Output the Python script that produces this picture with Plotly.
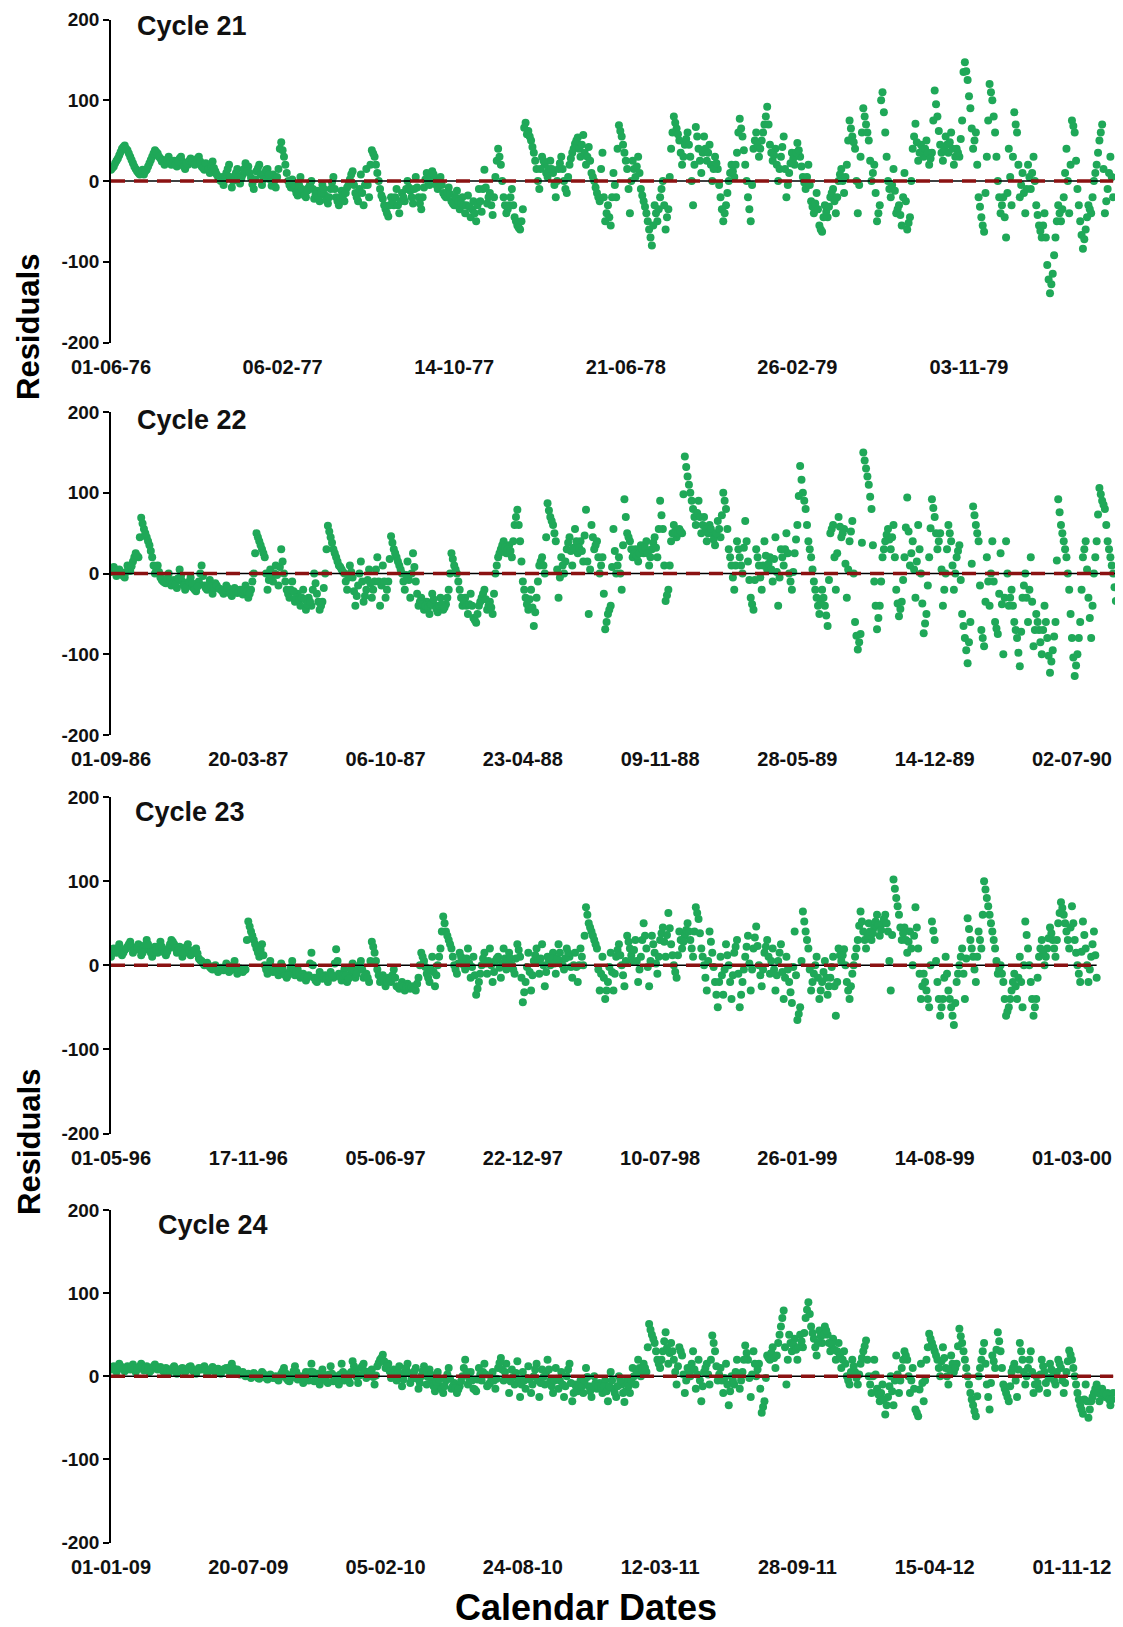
import numpy as np
import pandas as pd
import plotly.graph_objects as go

# ---------------- data ----------------
cycle_names = ["Cycle 21", "Cycle 22", "Cycle 23", "Cycle 24"]
start_dates = ["01-06-76", "01-09-86", "01-05-96", "01-01-09"]
sample_step_days = 4   # main readings every 4th day
mid_offset_days = 2    # in-between readings, 2 days after each main reading

resid_c21 = [
    14, 18, 25, 32, 40, 44, 38, 30, 22, 15,
    10, 12, 8, 14, 22, 30, 38, 34, 28, 26,
    22, 30, 20, 25, 18, 28, 24, 15, 20, 28,
    26, 22, 30, 18, 14, 20, 10, 24, 12, 5,
    0, -5, 10, 20, -8, 5, 15, -3, 8, 22,
    18, 4, -10, 12, 20, -5, 10, 15, 2, 8,
    -8, 15, 48, 30, 10, -5, 2, -10, -18, 5,
    -15, -20, -8, 0, -22, -12, -25, -5, -18, -28,
    -10, 5, -20, -30, -12, -25, -8, 2, 12, -15,
    -25, 8, -30, 15, -20, 38, 30, 10, -10, -22,
    -35, -44, -20, -30, -10, -40, -15, -25, 0, -12,
    -28, 5, -20, -35, -8, 10, -5, 12, 2, -10,
    5, -15, -20, -8, -25, -30, -12, -35, -20, -40,
    -18, -45, -25, -50, -10, -38, 14, -28, -15, -42,
    5, 40, 20, -20, -40, -30, -10, -45, -55, -60,
    -35, 72, 62, 50, 35, 15, -10, 30, 20, 5,
    25, 10, -20, 15, 30, 0, -15, 20, 35, 46,
    54, 30, 57, 20, 42, 10, 0, -15, -25, 35,
    -50, -30, -55, 10, -20, 69, 55, 35, 15, -40,
    25, 5, 30, -10, -25, -40, -60, -80, -30, -50,
    -20, 0, -60, -35, 40, 80, 65, 50, 20, 45,
    60, 30, -30, 67, 40, 10, 55, 25, 45, 0,
    30, 15, -20, -50, -30, 0, 20, 5, 35, 77,
    55, 20, -20, -50, 40, 60, 30, 50, 70, 92,
    45, 25, 40, 0, 30, 55, -20, 10, 35, 20,
    47, 30, 5, -10, 20, -25, -40, -15, -55, -63,
    -30, -45, -20, -10, -40, 0, 15, -15, 20, 75,
    55, 40, -40, 30, 90, 70, 50, 0, 20, -50,
    -30, 110, 60, 0, -20, 15, -40, -30, -55, 10,
    -60, -45, 40, 71, 25, 45, 30, 50, 20, 35,
    112, 80, 45, 25, 55, 35, 60, 20, 40, 30,
    75, 147, 125, 90, 40, 60, -20, -45, -63, 30,
    120, 100, 60, 0, -40, -20, -70, 40, -30, 85,
    60, -20, 10, -40, 20, -10, 30, -30, -55, -70,
    -40, -104, -139, -115, -70, -30, -50, -20, 40, -40,
    75, 60, -10, -50, -84, -60, -30, -40, 0, 20,
    50, 70, -40, -10, 30, -20,
]
resid_c21_mid = [
    16, 22, 28, 36, 42, 40, 34, 26, 18, 12,
    8, 14, 12, 18, 26, 34, 36, 30, 24, 20,
    26, 24, 22, 20, 24, 30, 18, 22, 25, 24,
    20, 28, 24, 16, 22, 15, 18, 16, 8, 2,
    5, 2, 15, 5, 0, 10, 5, 3, 15, 12,
    10, -4, 2, 16, 8, 2, 14, 8, -6, 0,
    5, 40, 38, 20, 0, -8, -4, -15, -5, -10,
    -18, -12, -4, -10, -16, -20, -15, -10, -24, -20,
    -2, -10, -25, -20, -18, -15, -5, 8, -5, -20,
    -10, -15, -5, -5, 20, 34, 20, 0, -18, -30,
    -40, -30, -25, -20, -30, -25, -20, -10, -8, -20,
    -10, -8, -28, -20, 2, 0, 5, 8, -5, 0,
    -5, -18, -14, -16, -28, -20, -25, -28, -30, -30,
    -32, -35, -40, -30, -25, -10, -8, -20, -30, -20,
    25, 30, 0, -30, -35, -20, -30, -50, -58, -50,
    66, 58, 55, 42, 25, 0, 15, 25, 10, 15,
    15, -5, 0, 22, 15, -10, 5, 28, 40, 50,
    40, 45, 35, 30, 25, 5, -8, -20, 15, -20,
    -40, -45, -20, -5, 40, 62, 45, 25, -10, 0,
    15, 18, 10, -18, -32, -50, -70, -55, -40, -35,
    -10, -30, -45, 5, 60, 72, 58, 35, 30, 52,
    45, 0, 20, 55, 25, 35, 40, 35, 20, 15,
    22, -5, -35, -40, -15, 10, 12, 20, 60, 65,
    38, 0, -35, -5, 50, 45, 40, 60, 80, 70,
    35, 32, 20, 15, 42, 15, -5, 22, 28, 35,
    38, 18, -2, 5, -5, -32, -28, -35, -60, -45,
    -38, -32, -15, -25, -20, 8, 0, 5, 50, 65,
    48, 0, -5, 60, 80, 60, 25, 10, -15, -40,
    100, 85, 30, -10, -5, -12, -35, -42, -20, -25,
    -52, 0, 55, 48, 35, 38, 40, 35, 28, 75,
    95, 62, 35, 40, 45, 48, 40, 30, 35, 52,
    135, 136, 105, 65, 50, 20, -32, -55, -15, 75,
    110, 80, 30, -20, -30, -45, -15, 5, 30, 70,
    20, -5, -15, -10, 5, 10, 0, -42, -62, -55,
    -70, -122, -128, -92, -50, -40, -35, 10, 0, 20,
    68, 25, -30, -67, -72, -45, -35, -20, 10, 35,
    60, 15, -25, 10, 5,
]

resid_c22 = [
    2, 8, -3, 5, 0, -5, 10, 3, 15, 25,
    20, 69, 55, 45, 35, 20, 0, 10, -5, -10,
    -12, 0, -15, -8, -18, 5, -10, -20, -14, -5,
    -18, -22, -10, 10, -15, -20, -8, -25, -12, -18,
    -20, -25, -15, -22, -28, -18, -24, -20, -26, -15,
    -30, -20, 0, 50, 40, 30, 20, -20, 5, -10,
    10, -15, 30, 0, -20, -30, -10, -35, -25, -40,
    -20, -45, -30, -40, 0, -25, -45, -35, 0, 59,
    45, 30, 20, 10, 5, 0, -20, 10, -5, -40,
    -15, 15, -35, -20, 5, -30, -10, 20, -40, 10,
    -30, -10, 46, 30, 20, 10, 0, -20, 15, -30,
    25, -10, -40, -30, -45, -35, -50, -25, -40, -48,
    -30, -45, -38, -20, 25, 10, 0, -20, -40, -30,
    -50, -25, -55, -61, -40, -30, -20, -45, -35, -50,
    0, 20, 30, 40, 25, 35, 20, 60, 79, 40,
    -10, -30, -45, -20, -65, -30, 10, 20, 0, 87,
    70, 60, 40, -30, 20, 0, 30, 45, 10, 55,
    25, 40, 15, 79, -50, 60, 30, 40, 0, 20,
    -69, -50, -40, 55, 0, 20, -20, 92, 50, 40,
    20, 30, 15, 35, 25, 40, 10, 30, 45, 20,
    90, 55, -34, -20, 40, 60, 45, 55, 50, 145,
    120, 100, 80, 60, 90, 50, 70, 40, 60, 50,
    35, 65, 45, 100, 80, 30, 10, -20, 40, 20,
    0, 65, 15, -30, -45, 30, 10, -20, 40, 5,
    20, -10, 45, -40, 30, 10, 50, 0, -20, 25,
    60, 133, 100, 80, 40, 20, -10, -30, -50, -20,
    -40, -65, 50, 60, -20, 70, 45, 55, -30, 40,
    65, -60, -94, -75, 150, 130, 110, 80, -10, -69,
    -40, 20, 40, 55, 30, 60, -20, -53, -35, 20,
    94, 10, 40, -30, 60, 0, -74, -50, 20, 92,
    70, 30, 50, -40, 0, 60, 40, -20, 20, 35,
    -50, -80, -111, -60, 83, 60, 40, -70, -90, 20,
    -40, 40, -60, -75, 25, -100, 40, -40, -20, -60,
    -80, -115, -30, 0, -60, 20, -90, -50, -70, -100,
    -40, -80, -123, -95, -60, 92, 60, 40, 20, -20,
    -80, -127, -100, -60, 20, 40, -30, -80, 0, 40,
    106, 90, 80, 40, 20, 0, -34,
]
resid_c22_mid = [
    5, 3, 1, 2, -3, 2, 6, 9, 20, 22,
    45, 62, 50, 40, 28, 10, 5, 2, -8, -11,
    -6, -8, -12, -13, -6, -3, -15, -17, -10, -12,
    -20, -16, 0, -3, -18, -14, -16, -18, -15, -19,
    -22, -20, -18, -25, -23, -21, -22, -23, -20, -22,
    -25, -10, 25, 45, 35, 25, 0, -8, -2, 0,
    -2, 8, 15, -10, -25, -20, -22, -30, -32, -30,
    -32, -38, -35, -20, -12, -35, -40, -18, 30, 52,
    38, 25, 15, 8, 2, -10, -5, 2, -22, -28,
    0, -10, -28, -8, -12, -20, 5, -10, -15, -10,
    -20, 18, 38, 25, 15, 5, -10, -2, -8, 0,
    8, -25, -35, -38, -40, -42, -38, -32, -44, -40,
    -38, -42, -30, 0, 18, 5, -10, -30, -35, -40,
    -38, -40, -58, -50, -35, -25, -32, -40, -42, -25,
    10, 25, 35, 32, 30, 28, 40, 70, 60, 15,
    -20, -38, -32, -42, -48, -10, 15, 10, 45, 78,
    65, 50, 5, -5, 10, 15, 38, 28, 32, 40,
    32, 28, 47, 15, 5, 45, 35, 20, 10, -25,
    -60, -45, 8, 28, 10, 0, 35, 70, 45, 30,
    25, 22, 25, 30, 32, 25, 20, 38, 32, 55,
    72, 10, -27, 10, 50, 52, 50, 52, 98, 132,
    110, 90, 70, 75, 70, 60, 55, 50, 55, 42,
    50, 55, 72, 90, 55, 20, -5, 10, 30, 10,
    32, 40, -8, -38, -8, 20, -5, 10, 22, 12,
    5, 18, 2, -5, 20, 30, 25, -10, 2, 42,
    96, 116, 90, 60, 30, 5, -20, -40, -35, -30,
    -52, -8, 55, 20, 25, 58, 50, 12, 5, 52,
    0, -77, -85, 38, 140, 120, 95, 35, -40, -55,
    -10, 30, 48, 42, 45, 20, -37, -44, -8, 57,
    52, 25, 5, 15, 30, -37, -62, -15, 56, 81,
    50, 40, 5, -20, 30, 50, 10, 0, 28, -8,
    -65, -95, -85, 12, 72, 50, -15, -80, -35, -10,
    0, -10, -68, -25, -38, -30, 0, -30, -40, -70,
    -98, -72, -15, -30, -20, -35, -70, -60, -85, -70,
    -60, -102, -109, -78, 16, 76, 50, 30, 0, -50,
    -104, -114, -80, -20, 30, 5, -55, -40, 20, 73,
    98, 85, 60, 30, 10, -17,
]

resid_c23 = [
    10, 20, 15, 25, 12, 18, 22, 28, 15, 20,
    25, 12, 18, 30, 20, 10, 22, 15, 28, 18,
    12, 20, 30, 25, 15, 22, 10, 18, 25, 12,
    15, 20, 8, 5, 0, 3, -2, -5, 0, -8,
    -3, -6, 2, -8, -5, 5, -10, -4, -8, -5,
    52, 40, 30, 20, 10, 25, 0, -10, 5, -8,
    -5, -12, 2, -10, -15, -8, 5, -12, -5, -15,
    -10, -18, -12, 15, -15, -20, -8, -16, -12, -20,
    -8, -15, 19, -10, -18, -5, -20, -12, 2, -15,
    -5, 5, -15, -10, -20, 28, 15, -5, -20, -12,
    -25, -15, -20, -5, -25, -28, -20, -30, -22, -28,
    -25, -30, -15, 15, 5, -10, -20, 10, -25, 0,
    20, 58, 40, 30, 20, 0, -10, 15, 5, -5,
    20, -15, 10, -35, -20, 0, 15, -10, 20, -20,
    5, 10, -15, 20, -5, 15, 0, -10, 25, 10,
    -44, -20, 15, -30, 5, 20, -10, 25, -25, 10,
    0, 15, -10, 25, 5, -5, 20, 10, -15, 15,
    -20, 20, 0, 69, 50, 40, 30, 20, -30, 10,
    -40, -20, 15, -30, 10, 25, 0, -25, 35, 20,
    5, 30, -20, 10, 50, 20, -25, 35, 15, -10,
    30, 45, 10, 62, 25, 0, -15, 40, 20, 35,
    50, 30, 10, 69, 55, 20, 0, -30, 40, 15,
    -20, -50, 10, -35, 25, 0, -40, 15, 30, -50,
    -20, 10, 35, -30, 20, 46, 0, -25, 15, 30,
    -10, 20, -30, 5, 25, -40, 10, -20, -45, 40,
    -65, -50, 64, 40, 20, -30, -10, 10, -40, -20,
    5, -35, -15, 10, -60, 20, 5, 19, -20, -40,
    -10, 10, 30, 64, 40, 20, 50, 30, 45, 60,
    35, 50, 60, 40, -30, 102, 80, 60, 30, 45,
    15, 40, 0, 69, 20, -40, -10, -30, -50, 52,
    30, -20, -60, -40, 10, -30, -50, -71, -20, 0,
    20, -40, 56, 30, 10, -20, 40, 20, 100, 80,
    60, 40, 20, -10, 0, -20, -60, -50, -30, -10,
    -40, 10, -50, 52, 20, -20, -60, -40, 10, 30,
    0, 20, 45, 30, 10, 50, 75, 60, 40, 20,
    70, 30, 0, -20, 52, 20, -20, 10, 40, -15,
]
resid_c23_mid = [
    15, 18, 20, 18, 15, 20, 25, 22, 18, 22,
    18, 15, 24, 25, 15, 16, 18, 22, 22, 15,
    16, 25, 28, 20, 18, 16, 14, 22, 18, 14,
    18, 14, 6, 2, 2, 0, -4, -2, -4, -5,
    -5, -2, -3, -6, 0, -3, -7, -6, -6, 30,
    46, 35, 25, 15, 18, 12, -5, -2, -2, -6,
    -8, -5, -4, -12, -12, -2, -4, -8, -10, -12,
    -14, -15, 2, 0, -18, -14, -12, -14, -16, -14,
    -12, 2, 5, -14, -12, -12, -16, -5, -6, -10,
    0, -5, -12, -15, 5, 22, 5, -12, -16, -18,
    -20, -18, -12, -15, -26, -24, -25, -26, -25, -26,
    -28, -22, 0, 10, -2, -15, -5, -8, -12, 10,
    40, 50, 35, 25, 10, -5, 2, 10, 0, 8,
    2, -2, -12, -28, -10, 8, 2, 5, 0, -8,
    8, -3, 2, 8, 5, 8, -5, 8, 18, -15,
    -32, -2, -8, -12, 12, 5, 8, 0, -8, 5,
    8, 2, 8, 15, 0, 8, 15, -2, 0, -2,
    0, 10, 35, 60, 45, 35, 25, -5, -10, -15,
    -30, -2, -8, -10, 18, 12, -12, 5, 28, 12,
    18, 5, -5, 30, 35, -2, 5, 25, 2, 10,
    38, 28, 36, 44, 12, -8, 12, 30, 28, 42,
    40, 20, 40, 62, 38, 10, -15, 5, 28, -2,
    -35, -20, -12, -5, 12, -20, -12, 22, -10, -35,
    -5, 22, 2, -5, 33, 23, -12, -5, 22, 10,
    5, -5, -12, 15, -8, -15, -5, -32, -2, -12,
    -58, 5, 52, 30, -5, -20, 0, -15, -30, -8,
    -15, -25, -2, -25, -20, 12, 12, 0, -30, -25,
    0, 20, 47, 52, 30, 35, 40, 38, 52, 48,
    42, 55, 50, 5, 36, 91, 70, 45, 38, 30,
    28, 20, 35, 45, -10, -25, -20, -40, 0, 41,
    5, -40, -50, -15, -10, -40, -60, -45, -10, 10,
    -10, 8, 43, 20, -5, 10, 30, 60, 90, 70,
    50, 30, 5, -5, -10, -40, -55, -40, -20, -25,
    -15, -20, 0, 36, 0, -40, -50, -15, 20, 15,
    10, 32, 38, 20, 30, 62, 68, 50, 30, 45,
    50, 15, -10, 16, 36, 0, -5, 25, 12,
]

resid_c24 = [
    8, 12, 5, 15, 10, 6, 12, 8, 14, 5,
    10, 15, 7, 12, 5, 9, 14, 8, 11, 6,
    10, 4, 8, 12, 3, 7, 10, 5, 9, 12,
    6, 3, 10, 8, 12, 4, 7, 11, 5, 9,
    3, 8, 10, 6, 15, 4, 8, 2, 5, 0,
    3, -2, 4, 0, -3, 5, 1, -4, 2, -2,
    0, -5, 3, 10, -3, -6, 2, 12, -4, 0,
    -8, 5, -5, 15, -6, 3, -10, 8, -4, -8,
    12, -6, 0, -10, 15, -5, 2, -8, 18, 6,
    -8, 10, 15, -2, 5, 8, -10, 12, 20, 26,
    10, 15, -2, 8, -5, 12, -12, 5, 15, -8,
    3, 10, -15, 0, 12, -10, 8, -5, -18, 5,
    -12, -20, -5, 10, -15, -8, -20, -12, 0, 20,
    -10, 5, -15, -18, 10, -5, 15, -12, -8, 5,
    -15, 10, 22, -5, 15, -20, 8, -10, 18, -25,
    5, -15, 12, -20, 0, 15, -25, 8, -10, 20,
    -5, -20, 10, -15, 5, -25, 0, 15, -30, -10,
    -18, -5, -20, 10, -12, -25, 0, -15, -8, -20,
    -5, -30, 5, -15, -25, 0, -10, -31, -5, -20,
    10, -10, 20, 0, 15, 5, 63, 50, 40, 20,
    10, 30, 53, 15, 40, 20, -10, 35, 25, -20,
    10, 0, 30, -15, 20, -30, 5, 15, -10, 49,
    30, -5, 10, -20, 15, -35, 0, -10, 20, -15,
    5, 37, 20, -25, 30, 0, 15, -44, -30, 25,
    20, 35, 10, 40, 60, 79, -10, 50, 30, 45,
    20, 50, 35, 70, 89, 60, 45, 25, 55, 40,
    60, 50, 30, 45, 20, 40, 10, 30, 0, -10,
    20, 5, -10, 15, 30, 43, 0, -20, 20, -15,
    -30, -10, -46, -25, 0, -35, 25, -20, 10, 30,
    20, -20, 10, -40, -48, 15, -30, 20, 51, 40,
    30, 20, 0, 35, 10, -10, 25, 5, 15, 57,
    40, 20, 0, -20, -35, -48, 0, 20, 40, -10,
    -40, 25, 10, 53, 30, -10, -20, -30, 5, 15,
    -25, 40, 20, -10, 10, 30, -20, 0, -15, 20,
    5, -20, 15, 0, -10, 20, 10, -20, 5, 31,
    20, 0, -20, -35, -45, -10, -50, -30, -20, -10,
    -30, -15, -25, -20, -35, -20,
]
resid_c24_mid = [
    10, 8, 10, 12, 8, 9, 10, 11, 9, 8,
    12, 11, 10, 8, 7, 12, 11, 10, 8, 8,
    7, 6, 10, 8, 5, 9, 8, 7, 11, 9,
    4, 7, 9, 10, 8, 6, 9, 8, 7, 6,
    6, 9, 8, 11, 10, 6, 5, 3, 2, 1,
    0, 1, 2, -2, 1, 3, -2, -1, 0, -1,
    -3, -1, 6, 4, -5, -2, 6, 5, -2, -4,
    -2, 0, 5, 5, -2, -4, -1, 2, -6, 2,
    3, -3, -5, 2, 5, -2, -3, 5, 12, -1,
    1, 12, 6, 2, 6, -1, 1, 16, 22, 18,
    12, 6, 3, 2, 4, 0, -4, 10, 4, -3,
    6, -3, -8, 6, 1, -1, 2, -12, -7, -4,
    -16, -12, 2, -3, -12, -14, -16, -6, 10, 5,
    -3, -5, -16, -4, 2, 5, 2, -10, -2, -5,
    -3, 16, 8, 5, -3, -6, -1, 4, -4, -10,
    -5, -2, -4, -10, 8, -5, -8, -1, 5, 8,
    -12, -5, -3, -5, -10, -12, 8, -8, -20, -14,
    -12, -12, -5, -1, -18, -12, -8, -12, -14, -12,
    -18, -12, -5, -20, -12, -5, -20, -18, -12, -5,
    0, 5, 10, 8, 10, 35, 56, 45, 30, 15,
    20, 42, 34, 28, 30, 5, 12, 30, 2, -5,
    5, 15, 8, 2, -5, -12, 10, 2, 20, 40,
    12, 2, -5, -2, -10, -18, -5, 5, 2, -5,
    20, 28, -2, 2, 15, 8, -15, -37, -2, 22,
    28, 22, 25, 50, 70, 35, 20, 40, 38, 32,
    35, 42, 52, 80, 75, 52, 35, 40, 48, 50,
    55, 40, 38, 32, 30, 25, 20, 15, -5, 5,
    12, -2, 2, 22, 36, 20, -10, 0, 2, -22,
    -20, -28, -35, -12, -18, -5, 2, -5, 20, 25,
    0, -5, -15, -44, -16, -8, -5, 35, 45, 35,
    25, 10, 18, 22, 0, 8, 15, 10, 36, 48,
    30, 10, -10, -28, -42, -24, 10, 30, 15, -25,
    -8, 18, 32, 42, 10, -15, -25, -12, 10, -5,
    8, 30, 5, 0, 20, 5, -10, -8, 2, 12,
    -8, -2, 8, -5, 5, 15, -5, -8, 18, 26,
    10, -10, -28, -40, -28, -30, -40, -25, -15, -20,
    -22, -20, -22, -28, -28,
]

ticks_c21 = ["01-06-76", "06-02-77", "14-10-77", "21-06-78", "26-02-79", "03-11-79"]
ticks_c22 = ["01-09-86", "20-03-87", "06-10-87", "23-04-88", "09-11-88", "28-05-89", "14-12-89", "02-07-90"]
ticks_c23 = ["01-05-96", "17-11-96", "05-06-97", "22-12-97", "10-07-98", "26-01-99", "14-08-99", "01-03-00"]
ticks_c24 = ["01-01-09", "20-07-09", "05-02-10", "24-08-10", "12-03-11", "28-09-11", "15-04-12", "01-11-12"]

y_ticks = [-200, -100, 0, 100, 200]

# ---------------- layout constants ----------------
PAGE_W, PAGE_H = 1123, 1627
PAGE_MARGIN = 8                       # default body margin of the html page
W, H = PAGE_W - PAGE_MARGIN, PAGE_H - PAGE_MARGIN


def px_x(p):
    return (p - PAGE_MARGIN) / W


def px_y(p):
    return 1 - (p - PAGE_MARGIN) / H


AXIS_SPAN_DAYS = 1470
X_DOMAIN = [px_x(111), px_x(1120)]
PANEL_PX = [(19.5, 342.5), (412, 735), (797, 1133.5), (1210, 1542.5)]
TITLE_POS = [(135, 26), (135, 420), (133, 812), (156, 1225)]
GREEN = "#1fa858"
DASH_RED = "#8b1212"
FONT = "Liberation Sans, Arial, sans-serif"

series = [resid_c21, resid_c22, resid_c23, resid_c24]
series_mid = [resid_c21_mid, resid_c22_mid, resid_c23_mid, resid_c24_mid]
tick_sets = [ticks_c21, ticks_c22, ticks_c23, ticks_c24]

fig = go.Figure()
layout_axes = {}
annotations = []

for k in range(4):
    n = k + 1
    xa = "x" if n == 1 else f"x{n}"
    ya = "y" if n == 1 else f"y{n}"
    start = pd.to_datetime(start_dates[k], format="%d-%m-%y")
    vals = series[k]
    mids = series_mid[k]
    dates = start + pd.to_timedelta(np.arange(len(vals)) * sample_step_days, unit="D")
    dates_mid = start + pd.to_timedelta(np.arange(len(mids)) * sample_step_days + mid_offset_days, unit="D")

    all_x = list(dates) + list(dates_mid)
    all_y = list(vals) + list(mids)
    fig.add_trace(go.Scatter(
        x=all_x, y=all_y, mode="markers", xaxis=xa, yaxis=ya,
        marker=dict(color=GREEN, size=8, line=dict(width=0)),
        showlegend=False, hoverinfo="skip"))
    # zero reference: thin black line plus dark red dashed line
    fig.add_trace(go.Scatter(
        x=[dates[0], dates[-1]], y=[0, 0], mode="lines", xaxis=xa, yaxis=ya,
        line=dict(color="black", width=1.3), showlegend=False, hoverinfo="skip"))
    fig.add_trace(go.Scatter(
        x=[dates[0], dates[-1]], y=[0, 0], mode="lines", xaxis=xa, yaxis=ya,
        line=dict(color=DASH_RED, width=3.5, dash="14px,9px"),
        showlegend=False, hoverinfo="skip"))

    top_px, bot_px = PANEL_PX[k]
    ydom = [px_y(bot_px), px_y(top_px)]
    tickdates = [pd.to_datetime(t, format="%d-%m-%y") for t in tick_sets[k]]

    xkey = "xaxis" if n == 1 else f"xaxis{n}"
    ykey = "yaxis" if n == 1 else f"yaxis{n}"
    layout_axes[xkey] = dict(
        domain=X_DOMAIN, anchor=ya, type="date", automargin=False,
        range=[start, start + pd.Timedelta(days=AXIS_SPAN_DAYS)],
        tickvals=tickdates, ticktext=tick_sets[k],
        showline=False, showgrid=False, zeroline=False, ticks="",
        ticklabelstandoff=10, ticklabeloverflow="allow",
        tickfont=dict(family=FONT, size=20, color="#111", weight="bold"),
    )
    layout_axes[ykey] = dict(
        domain=ydom, anchor=xa, range=[-200, 200], automargin=False,
        tickvals=y_ticks, ticktext=[str(v) for v in y_ticks],
        showline=True, linecolor="black", linewidth=1.5,
        ticks="outside", ticklen=6, tickwidth=1.5, tickcolor="black",
        showgrid=False, zeroline=False, ticklabeloverflow="allow",
        tickfont=dict(family=FONT, size=19, color="#111", weight="bold"),
    )
    tx, ty = TITLE_POS[k]
    annotations.append(dict(
        text=cycle_names[k], x=px_x(tx), y=px_y(ty), xref="paper", yref="paper",
        xanchor="left", yanchor="middle", showarrow=False,
        font=dict(family=FONT, size=27, color="#111", weight="bold")))

for yc in (327, 1142):
    annotations.append(dict(
        text="Residuals", x=px_x(29), y=px_y(yc), xref="paper", yref="paper",
        xanchor="center", yanchor="middle", textangle=-90, showarrow=False,
        font=dict(family=FONT, size=31, color="black", weight="bold")))

annotations.append(dict(
    text="Calendar Dates", x=px_x(586), y=px_y(1607), xref="paper", yref="paper",
    xanchor="center", yanchor="middle", showarrow=False,
    font=dict(family=FONT, size=36, color="black", weight="bold")))

fig.update_layout(
    width=W, height=H, autosize=False,
    margin=dict(l=0, r=0, t=0, b=0),
    paper_bgcolor="white", plot_bgcolor="white",
    showlegend=False, annotations=annotations,
    **layout_axes,
)

fig.write_html("out.html")
